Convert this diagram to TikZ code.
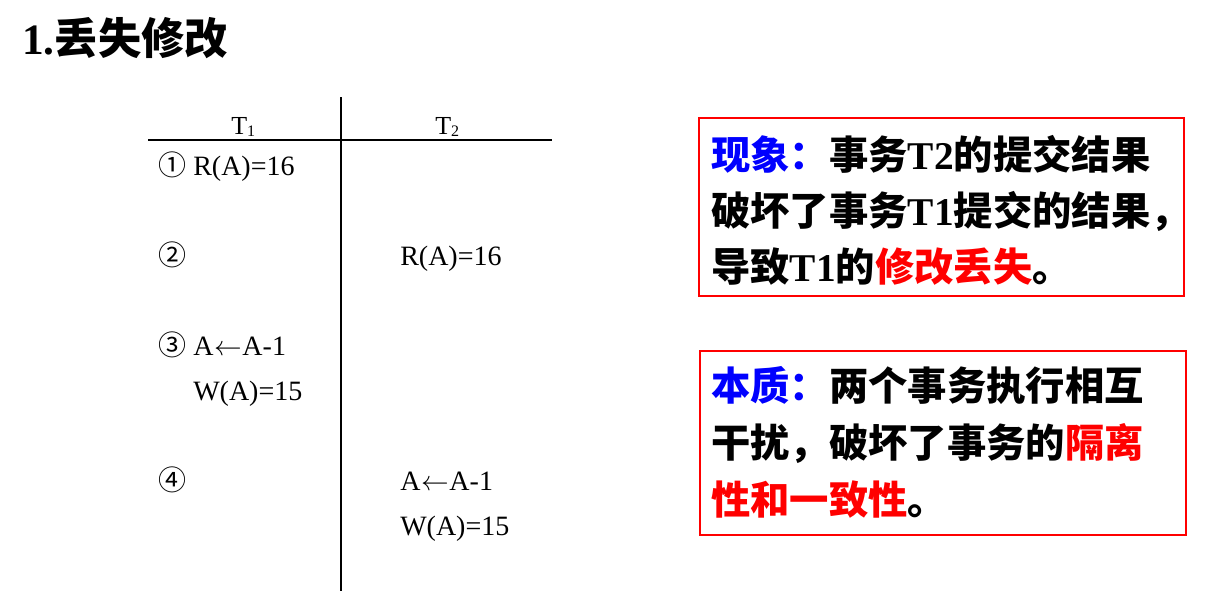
\documentclass[tikz,border=0pt]{standalone}
\usepackage{fontspec}
\setmainfont{Liberation Serif}
\newfontfamily\cjk{Noto Sans CJK SC}
\definecolor{myblue}{RGB}{0,0,255}
\definecolor{myred}{RGB}{255,0,0}
\newcommand{\ser}[1]{{\rmfamily\bfseries #1}}
\newcommand{\larr}{\kern0.5pt$\leftarrow$\kern0.5pt}
\begin{document}
\begin{tikzpicture}[x=0.75pt,y=-0.75pt,
  tbl/.style={anchor=base west, inner sep=0pt, font=\fontsize{21}{24}\selectfont},
  hdr/.style={anchor=base west, inner sep=0pt, font=\fontsize{19.5}{22}\selectfont},
  boxtxt/.style={anchor=base west, inner sep=0pt, font=\cjk\bfseries\fontsize{29.5}{34}\selectfont},
  frame/.style={draw=myred, line width=1.5pt, anchor=north west, inner sep=0pt, outer sep=0pt},
  rule/.style={line width=1.1pt, black}]
\useasboundingbox (0,0) rectangle (1223,615);
% title
\node[anchor=base west, inner sep=0pt, font=\cjk\bfseries\fontsize{32.5}{36}\selectfont] (title) at (22,54) {\ser{1.}丢失修改};
% table
\coordinate (hl) at (148,140);
\coordinate (hr) at (552,140);
\coordinate (vt) at (341,97);
\coordinate (vb) at (341,591);
\draw[rule] (hl) -- (hr);
\draw[rule] (vt) -- (vb);
\node[hdr] (t1) at (231,134) {T\raisebox{-0.25ex}{\fontsize{12}{14}\selectfont 1}};
\node[hdr] (t2) at (435,134) {T\raisebox{-0.25ex}{\fontsize{12}{14}\selectfont 2}};
\node[tbl] (r1) at (158,175) {{\cjk ①} R(A)=16};
\node[tbl] (r2) at (158,265) {{\cjk ②}};
\node[tbl] (r2b) at (400,265) {R(A)=16};
\node[tbl] (r3) at (158,355) {{\cjk ③} A\larr A-1};
\node[tbl] (r3b) at (193,400) {W(A)=15};
\node[tbl] (r4) at (158,490) {{\cjk ④}};
\node[tbl] (r4b) at (400,490) {A\larr A-1};
\node[tbl] (r4c) at (400,535) {W(A)=15};
% boxes
\node[frame, minimum width=363.75pt, minimum height=133.5pt] (box1) at (699,118) {};
\node[boxtxt] (b1l1) at (711,169) {\textcolor{myblue}{现象：}事务\ser{T2}的提交结果};
\node[boxtxt] (b1l2) at (711,225) {破坏了事务\ser{T1}提交的结果，};
\node[boxtxt] (b1l3) at (711,281) {导致\ser{T1}的\textcolor{myred}{修改丢失}。};
\node[frame, minimum width=364.5pt, minimum height=138pt] (box2) at (700,351) {};
\node[boxtxt] (b2l1) at (711,400) {\textcolor{myblue}{本质：}两个事务执行相互};
\node[boxtxt] (b2l2) at (711,457) {干扰，破坏了事务的\textcolor{myred}{隔离}};
\node[boxtxt] (b2l3) at (711,514) {\textcolor{myred}{性和一致性}。};
\end{tikzpicture}
\end{document}
